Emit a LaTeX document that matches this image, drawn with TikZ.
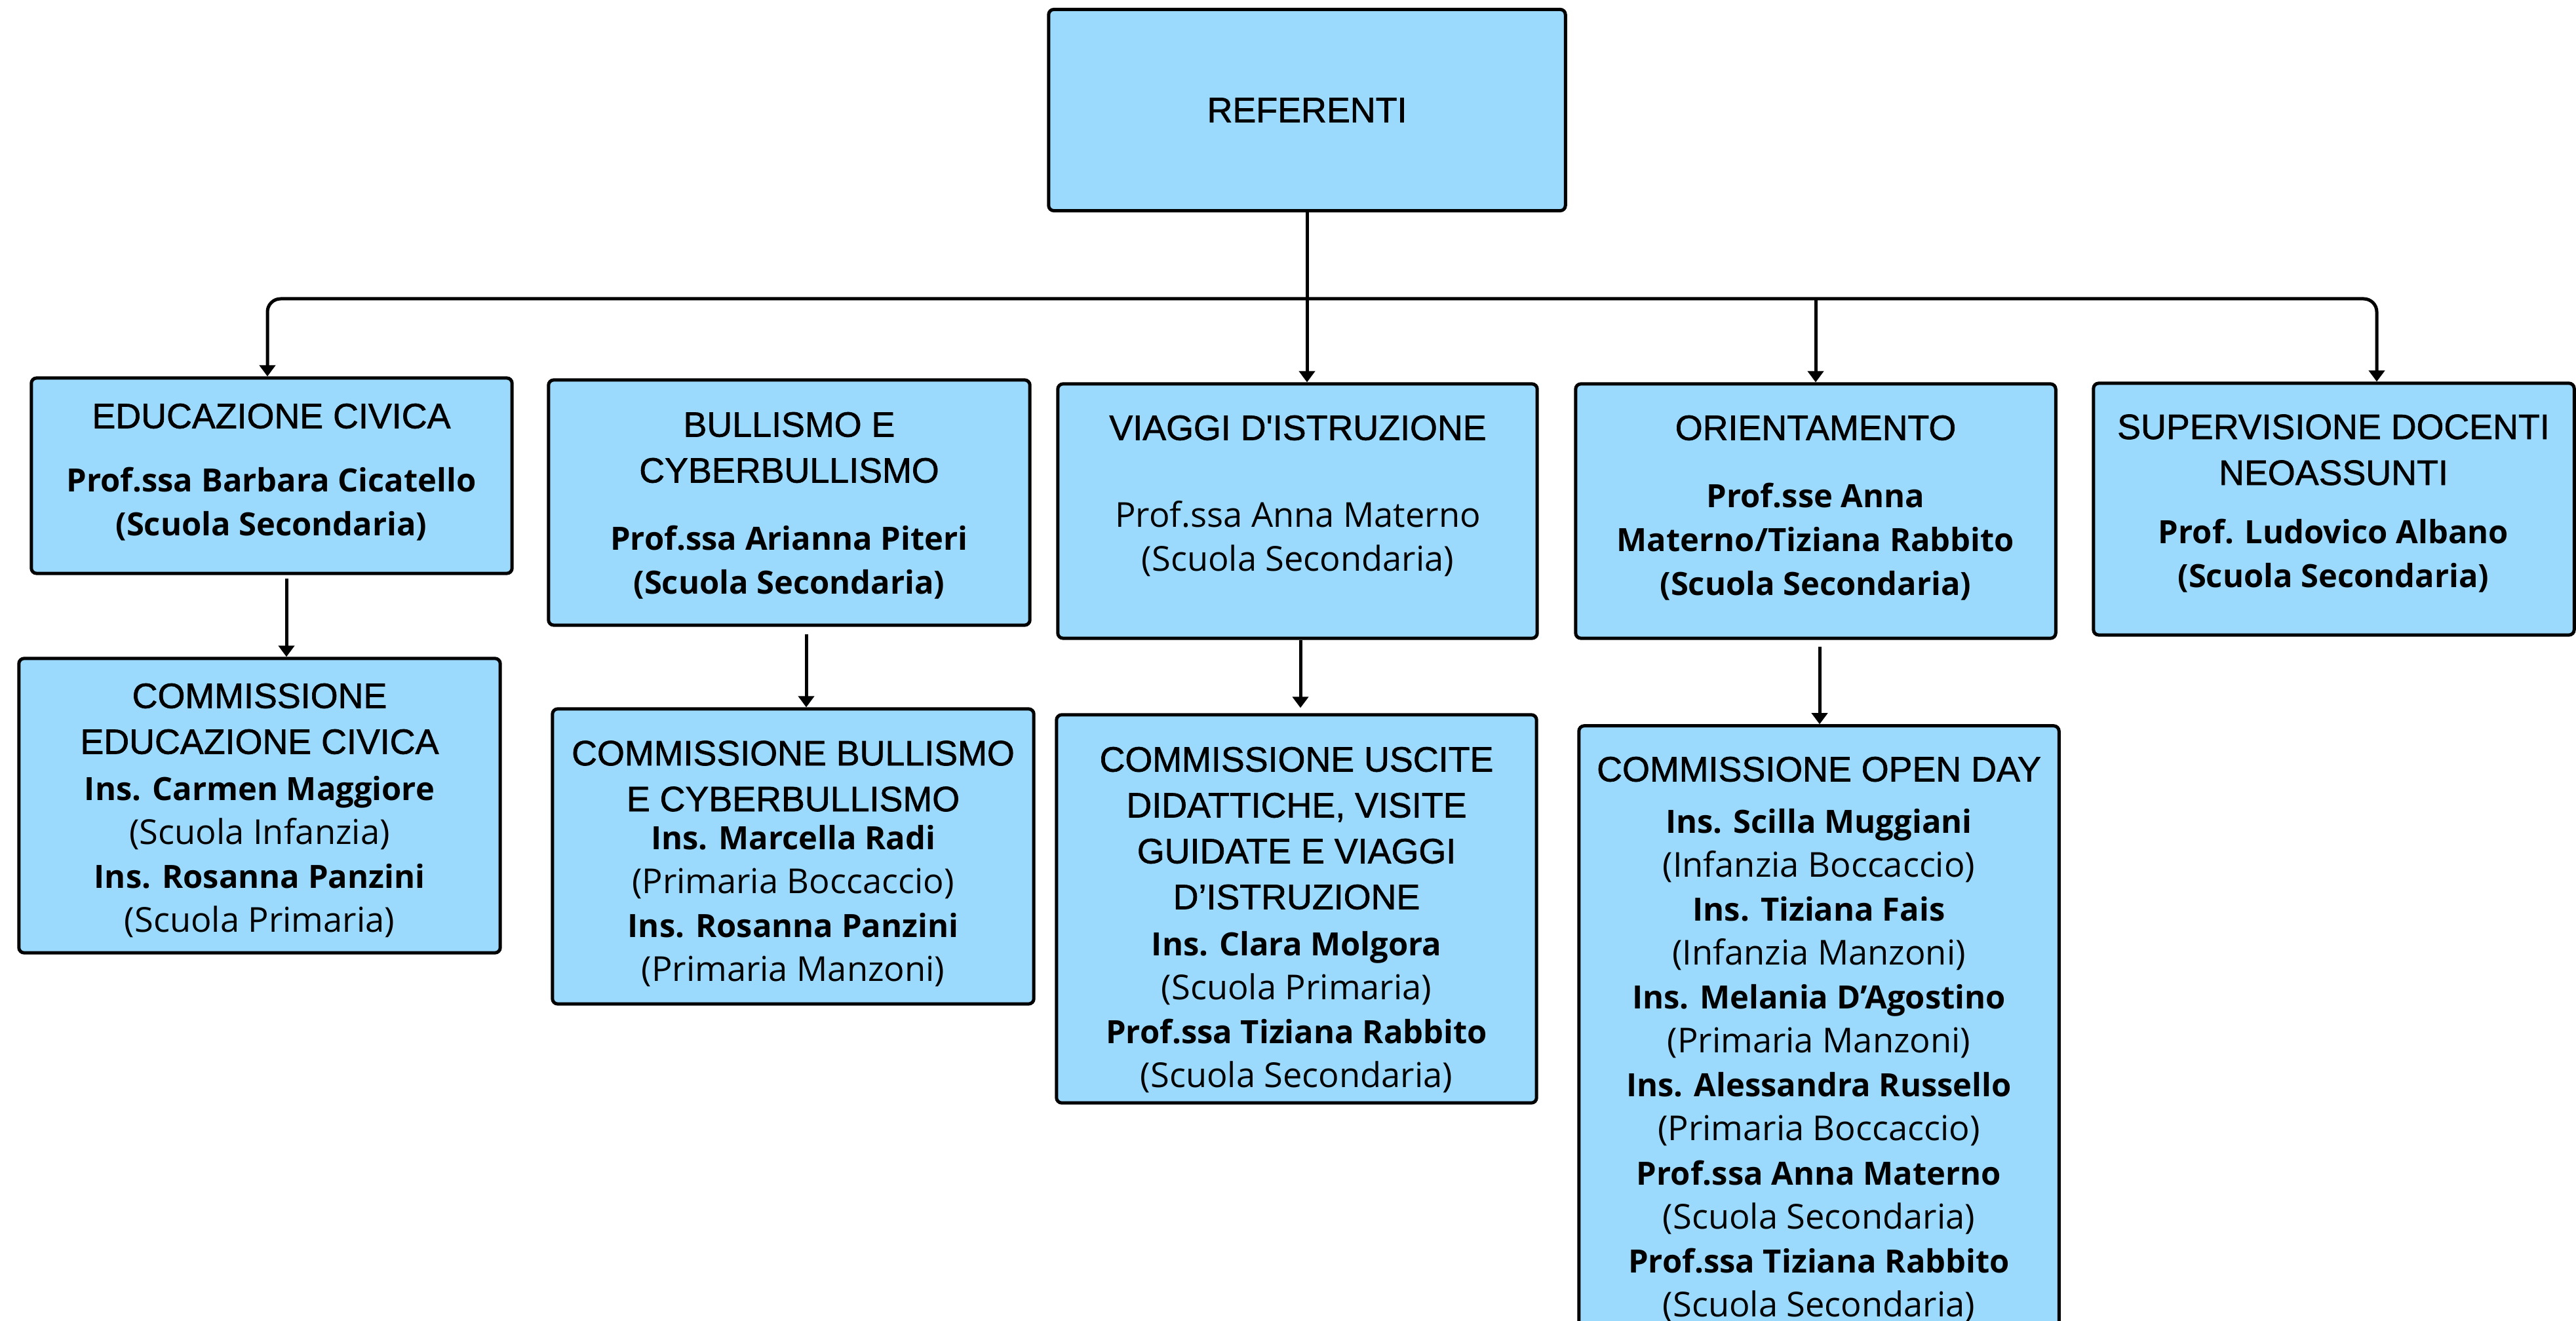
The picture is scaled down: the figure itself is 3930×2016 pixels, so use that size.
\documentclass[tikz,border=0pt]{standalone}
\usepackage{fontspec}
\usepackage{tikz}
\usetikzlibrary{arrows.meta}
\newfontfamily\headfont[FakeBold=1.2]{Liberation Sans}
\newfontfamily\namefont{Open Sans}
\newcommand\sede[1]{{\fontsize{14.9}{19.06}\selectfont#1}}
\definecolor{panelblue}{RGB}{155,218,253}

\begin{document}
\begin{tikzpicture}[x=0.01cm,y=-0.01cm,line width=0.5mm]
  \tikzstyle{panel}=[draw,fill=panelblue,rounded corners=0.8mm,inner sep=0]
  \tikzstyle{head}=[font=\headfont\fontsize{15.3}{19.9}\selectfont,align=center,inner sep=0]
  \tikzstyle{names}=[font=\namefont\fontsize{13.9}{19.06}\selectfont,align=center,inner sep=0]
  \tikzstyle{link}=[-{Triangle[length=1.7mm,width=2.4mm]}]

  \useasboundingbox (0,0) rectangle (3930,2016);
  \clip (0,0) rectangle (3930,2016);

  % top
  \node[panel,head,minimum width=7.88cm,minimum height=3.07cm] (ref) at (1994,168) {REFERENTI};

  % first row
  \node[panel,minimum width=7.33cm,minimum height=2.98cm] (educ) at (414.5,726) {};
  \node[head] (educT) at (414,635) {EDUCAZIONE CIVICA};
  \node[names] (educN) at (414,769.5) {\textbf{Prof.ssa Barbara Cicatello}\\\textbf{(Scuola Secondaria)}};

  \node[panel,minimum width=7.34cm,minimum height=3.74cm] (bull) at (1204,767) {};
  \node[head] (bullT) at (1204,683) {BULLISMO E\\CYBERBULLISMO};
  \node[names] (bullN) at (1204,858.5) {\textbf{Prof.ssa Arianna Piteri}\\\textbf{(Scuola Secondaria)}};

  \node[panel,minimum width=7.31cm,minimum height=3.88cm] (viag) at (1979.5,780) {};
  \node[head] (viagT) at (1980,653) {VIAGGI D\textquotesingle ISTRUZIONE};
  \node[names] (viagN) at (1980,822.5) {\sede{Prof.ssa Anna Materno}\\\sede{(Scuola Secondaria)}};

  \node[panel,minimum width=7.32cm,minimum height=3.88cm] (orie) at (2770,780) {};
  \node[head] (orieT) at (2770,653) {ORIENTAMENTO};
  \node[names] (orieN) at (2770,826.5) {\textbf{Prof.sse Anna}\\\textbf{Materno/Tiziana Rabbito}\\\textbf{(Scuola Secondaria)}};

  \node[panel,minimum width=7.33cm,minimum height=3.84cm] (supe) at (3560.5,777) {};
  \node[head] (supeT) at (3560,686.5) {SUPERVISIONE DOCENTI\\NEOASSUNTI};
  \node[names] (supeN) at (3560,848.5) {\textbf{Prof. Ludovico Albano}\\\textbf{(Scuola Secondaria)}};

  % commissions
  \node[panel,minimum width=7.34cm,minimum height=4.49cm] (comEduc) at (396,1229.5) {};
  \node[head] (comEducT) at (396,1097) {COMMISSIONE\\EDUCAZIONE CIVICA};
  \node[names] (comEducN) at (396,1308) {\textbf{Ins. Carmen Maggiore}\\\sede{(Scuola Infanzia)}\\\textbf{Ins. Rosanna Panzini}\\\sede{(Scuola Primaria)}};

  \node[panel,minimum width=7.34cm,minimum height=4.50cm] (comBull) at (1210,1307) {};
  \node[head] (comBullT) at (1210,1184.5) {COMMISSIONE BULLISMO\\E CYBERBULLISMO};
  \node[names] (comBullN) at (1210,1382.5) {\textbf{Ins. Marcella Radi}\\\sede{(Primaria Boccaccio)}\\\textbf{Ins. Rosanna Panzini}\\\sede{(Primaria Manzoni)}};

  \node[panel,minimum width=7.32cm,minimum height=5.92cm] (comViag) at (1978,1387) {};
  \node[head] (comViagT) at (1978,1264) {COMMISSIONE USCITE\\DIDATTICHE, VISITE\\GUIDATE E VIAGGI\\D’ISTRUZIONE};
  \node[names] (comViagN) at (1978,1545) {\textbf{Ins. Clara Molgora}\\\sede{(Scuola Primaria)}\\\textbf{Prof.ssa Tiziana Rabbito}\\\sede{(Scuola Secondaria)}};

  \node[panel,minimum width=7.32cm,minimum height=9.52cm] (comOpen) at (2775,1584) {};
  \node[head] (comOpenT) at (2775,1174) {COMMISSIONE OPEN DAY};
  \node[names] (comOpenN) at (2775,1626) {\textbf{Ins. Scilla Muggiani}\\\sede{(Infanzia Boccaccio)}\\\textbf{Ins. Tiziana Fais}\\\sede{(Infanzia Manzoni)}\\\textbf{Ins. Melania D’Agostino}\\\sede{(Primaria Manzoni)}\\\textbf{Ins. Alessandra Russello}\\\sede{(Primaria Boccaccio)}\\\textbf{Prof.ssa Anna Materno}\\\sede{(Scuola Secondaria)}\\\textbf{Prof.ssa Tiziana Rabbito}\\\sede{(Scuola Secondaria)}};

  % connectors
  \coordinate (busL) at (408,456);
  \coordinate (busR) at (3626,456);
  \draw[{Triangle[length=1.7mm,width=2.4mm]}-{Triangle[length=1.7mm,width=2.4mm]},rounded corners=2mm]
    (educ.north -| busL) |- (busR) -- (supe.north -| busR);
  \draw[link] (ref.south) -- (ref.south |- viag.north);
  \draw[link] (orie.north |- busL) -- (orie.north);

  \draw[link,shorten <=0.5mm] ([xshift=2.25mm]educ.south) -- ([xshift=2.25mm]educ.south |- comEduc.north);
  \draw[link,shorten <=1.1mm] ([xshift=2.6mm]bull.south) -- ([xshift=2.6mm]bull.south |- comBull.north);
  \draw[link,shorten >=0.8mm] ([xshift=0.45mm]viag.south) -- ([xshift=0.45mm]viag.south |- comViag.north);
  \draw[link,shorten <=1mm] ([xshift=0.6mm]orie.south) -- ([xshift=0.6mm]orie.south |- comOpen.north);
\end{tikzpicture}
\end{document}
